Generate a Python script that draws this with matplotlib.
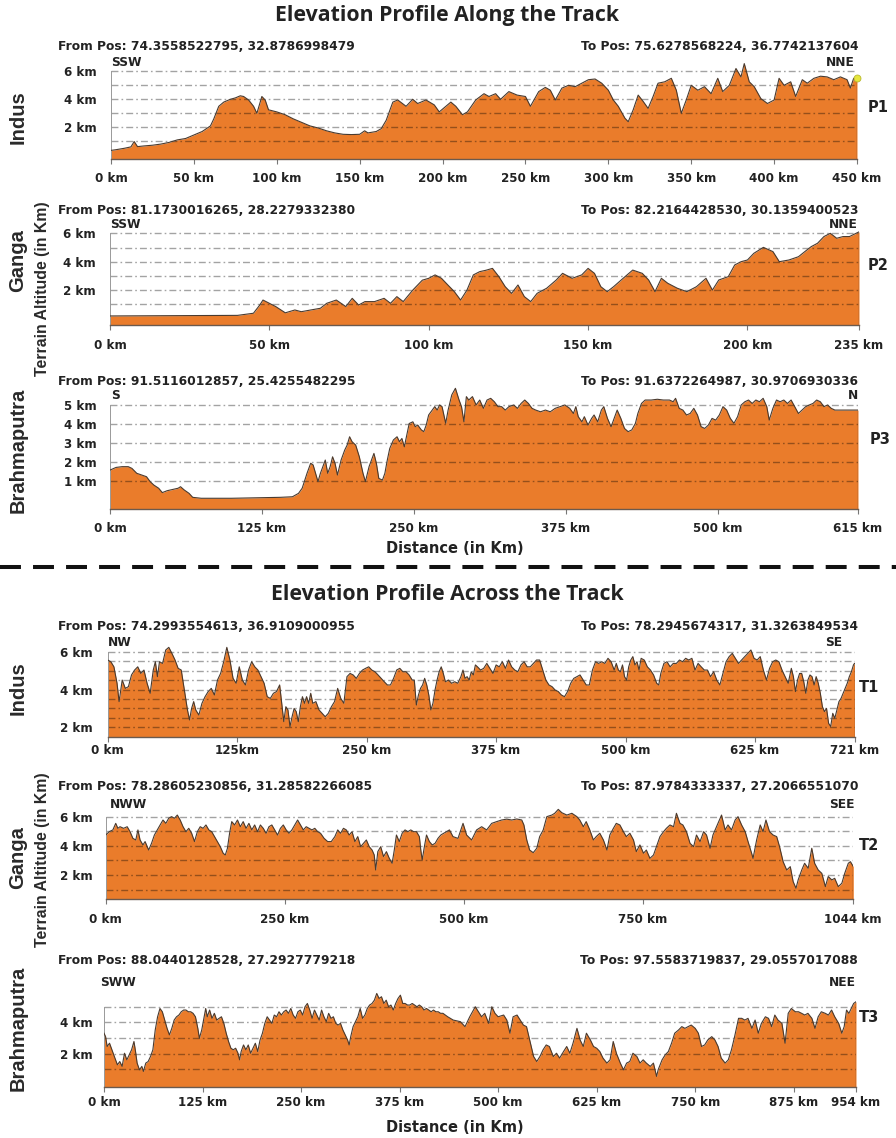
import matplotlib
matplotlib.use("Agg")
import matplotlib.pyplot as plt
from matplotlib.lines import Line2D

plt.rcParams['font.family'] = ['DejaVu Sans']

# ---------------------------------------------------------------- data
# Along-track profiles (distance km, terrain altitude km)
p1_km = [0, 3, 8, 12, 14, 16, 20, 25, 30, 35,
         40, 45, 50, 55, 60, 62, 65, 68, 72, 75,
         78, 80, 83, 86, 88, 91, 93, 95, 100, 105,
         110, 115, 120, 125, 130, 135, 140, 145, 150, 153,
         155, 160, 163, 166, 170, 173, 178, 182, 185, 190,
         195, 198, 200, 205, 208, 212, 215, 220, 225, 228,
         232, 235, 240, 245, 250, 253, 258, 262, 265, 268,
         272, 276, 280, 284, 288, 292, 296, 300, 303, 306,
         310, 312, 315, 318, 321, 324, 327, 330, 334, 338,
         341, 344, 347, 350, 354, 358, 362, 366, 369, 373,
         377, 380, 382, 385, 388, 392, 396, 400, 403, 406,
         410, 413, 417, 420, 424, 428, 432, 436, 440, 444,
         446, 448, 450]
p1_elev = [0.35, 0.40, 0.50, 0.60, 0.98, 0.62, 0.67, 0.72, 0.80, 0.92,
           1.10, 1.20, 1.45, 1.70, 2.10, 2.60, 3.50, 3.80, 4.00, 4.10,
           4.25, 4.20, 3.95, 3.50, 3.00, 4.20, 3.95, 3.25, 3.10, 2.90,
           2.60, 2.35, 2.10, 1.95, 1.75, 1.60, 1.50, 1.48, 1.50, 1.75,
           1.60, 1.70, 1.90, 2.50, 3.80, 3.95, 3.50, 4.00, 3.70, 3.95,
           3.60, 3.10, 3.30, 3.80, 3.50, 2.90, 3.10, 3.95, 4.40, 4.20,
           4.40, 4.00, 4.55, 4.30, 4.20, 3.50, 4.55, 4.85, 4.65, 3.95,
           4.80, 5.00, 4.90, 5.15, 5.40, 5.45, 5.15, 4.65, 3.95, 3.50,
           2.65, 2.40, 3.25, 4.30, 3.85, 3.35, 4.20, 5.15, 5.25, 5.50,
           4.65, 3.00, 3.95, 5.00, 4.65, 4.90, 4.40, 5.50, 4.55, 5.00,
           6.20, 5.60, 6.55, 5.25, 4.90, 4.05, 3.70, 3.95, 5.50, 5.00,
           5.25, 4.20, 5.40, 5.15, 5.50, 5.65, 5.60, 5.40, 5.60, 5.40,
           4.80, 5.50, 5.50]

p2_km = [0, 40, 45, 47, 48, 50, 52, 55, 58, 60,
         63, 66, 68, 71, 74, 76, 78, 80, 83, 86,
         88, 90, 92, 95, 98, 100, 102, 104, 106, 108,
         110, 112, 114, 116, 118, 120, 122, 124, 126, 128,
         130, 132, 134, 137, 140, 142, 145, 148, 150, 152,
         154, 156, 158, 161, 164, 167, 169, 171, 173, 175,
         178, 181, 184, 187, 189, 191, 194, 196, 198, 200,
         202, 205, 208, 210, 213, 216, 218, 220, 222, 224,
         226, 228, 230, 232, 235]
p2_elev = [0.18, 0.22, 0.37, 0.95, 1.30, 1.07, 0.84, 0.40, 0.60, 0.48,
           0.60, 0.72, 1.07, 1.30, 0.84, 1.42, 0.95, 1.19, 1.19, 1.42,
           1.07, 1.54, 1.19, 2.00, 2.70, 2.83, 3.07, 2.83, 2.36, 1.90,
           1.30, 2.00, 3.07, 3.30, 3.40, 3.53, 2.95, 2.24, 1.77, 2.36,
           1.54, 1.19, 1.77, 2.13, 2.71, 3.18, 2.83, 3.07, 3.53, 3.18,
           2.24, 1.89, 2.24, 2.83, 3.41, 3.18, 2.71, 1.89, 2.83, 2.48,
           2.13, 1.89, 2.24, 2.83, 2.00, 2.71, 2.95, 3.77, 4.00, 4.12,
           4.59, 5.01, 4.71, 4.00, 4.12, 4.35, 4.71, 5.06, 5.30, 5.77,
           6.00, 5.65, 5.77, 5.77, 6.10]

p3_km = [0, 5, 10, 15, 18, 22, 26, 30, 33, 36,
         40, 43, 47, 52, 56, 58, 61, 65, 68, 75,
         100, 125, 140, 150, 155, 158, 162, 165, 167, 169,
         171, 173, 175, 177, 179, 181, 183, 185, 187, 190,
         193, 195, 197, 199, 202, 205, 208, 210, 213, 215,
         217, 219, 221, 224, 226, 228, 230, 233, 236, 238,
         240, 242, 244, 246, 249, 251, 253, 256, 258, 260,
         262, 265, 267, 269, 271, 273, 276, 278, 281, 284,
         287, 289, 291, 293, 295, 298, 301, 304, 307, 310,
         313, 316, 319, 322, 325, 328, 332, 335, 338, 341,
         344, 347, 350, 354, 358, 362, 366, 370, 374, 378,
         381, 383, 385, 388, 390, 393, 396, 398, 401, 404,
         406, 409, 412, 415, 417, 420, 423, 426, 429, 432,
         434, 437, 440, 445, 450, 455, 460, 463, 465, 468,
         471, 474, 477, 480, 483, 486, 489, 492, 495, 498,
         501, 504, 507, 510, 513, 516, 519, 522, 525, 528,
         531, 534, 537, 540, 542, 545, 548, 551, 554, 557,
         560, 563, 566, 569, 572, 575, 578, 581, 584, 587,
         590, 593, 596, 600, 615]
p3_elev = [1.56, 1.70, 1.74, 1.74, 1.65, 1.39, 1.30, 1.21, 0.95, 0.77,
           0.60, 0.37, 0.47, 0.54, 0.60, 0.68, 0.51, 0.33, 0.12, 0.07,
           0.07, 0.10, 0.12, 0.15, 0.33, 0.60, 1.39, 1.92, 1.83, 1.39,
           0.95, 1.39, 1.74, 2.09, 1.39, 1.74, 2.26, 1.92, 1.30, 2.09,
           2.62, 2.88, 3.32, 3.06, 2.88, 2.26, 1.39, 0.95, 1.74, 2.09,
           2.44, 1.92, 1.12, 1.03, 1.39, 2.09, 2.70, 3.15, 3.32, 3.06,
           3.23, 2.79, 3.41, 4.02, 4.11, 3.85, 3.94, 3.68, 3.59, 3.94,
           4.47, 4.73, 4.91, 4.73, 5.00, 4.91, 4.03, 4.73, 5.53, 5.88,
           5.26, 4.91, 4.11, 5.44, 5.26, 5.44, 5.00, 5.26, 4.82, 5.26,
           5.35, 5.17, 4.91, 4.91, 4.73, 4.91, 5.00, 4.82, 5.08, 5.26,
           5.08, 4.82, 4.73, 4.64, 4.73, 4.64, 4.82, 4.91, 5.00, 4.82,
           4.55, 4.91, 4.38, 4.11, 4.38, 3.94, 4.29, 4.47, 4.11, 4.73,
           4.91, 4.29, 3.85, 4.38, 4.73, 4.29, 3.76, 3.59, 3.68, 4.03,
           4.55, 5.08, 5.26, 5.26, 5.30, 5.26, 5.26, 5.17, 5.35, 4.82,
           4.73, 4.47, 4.55, 4.82, 4.47, 3.85, 3.76, 3.94, 4.29, 4.20,
           4.47, 4.91, 4.73, 4.29, 4.03, 4.38, 5.00, 5.17, 5.26, 5.08,
           5.26, 5.17, 5.35, 4.91, 4.20, 4.82, 5.26, 5.17, 5.26, 5.08,
           5.26, 4.91, 4.55, 4.73, 4.91, 5.00, 5.08, 5.26, 5.17, 4.91,
           5.00, 4.82, 4.73, 4.73, 4.73]

# Across-track profiles
t1_km = [0, 3, 6, 9, 11, 14, 17, 20, 23, 26,
         29, 32, 35, 38, 41, 44, 46, 48, 50, 53,
         56, 59, 62, 65, 68, 71, 74, 77, 79, 81,
         83, 85, 88, 91, 94, 97, 100, 103, 106, 109,
         112, 115, 118, 121, 124, 127, 130, 133, 136, 139,
         142, 145, 148, 151, 154, 157, 160, 163, 166, 168,
         170, 172, 174, 176, 178, 180, 182, 184, 186, 188,
         190, 192, 194, 196, 198, 201, 204, 207, 210, 213,
         216, 219, 222, 225, 228, 231, 234, 237, 240, 243,
         246, 249, 252, 255, 258, 261, 264, 267, 270, 273,
         276, 279, 282, 285, 288, 291, 294, 296, 298, 300,
         302, 304, 306, 308, 310, 312, 314, 316, 318, 320,
         322, 324, 326, 329, 332, 335, 338, 341, 343, 345,
         347, 349, 351, 353, 355, 357, 360, 363, 366, 369,
         372, 375, 378, 381, 384, 387, 390, 393, 396, 399,
         402, 405, 408, 411, 414, 417, 420, 423, 426, 429,
         432, 435, 438, 441, 444, 447, 450, 453, 456, 459,
         462, 465, 468, 471, 474, 477, 480, 483, 486, 489,
         491, 493, 495, 497, 499, 501, 503, 505, 507, 509,
         511, 513, 515, 518, 521, 524, 527, 530, 532, 534,
         537, 540, 543, 546, 549, 552, 555, 558, 561, 564,
         567, 570, 573, 576, 579, 582, 585, 588, 591, 594,
         597, 600, 603, 606, 609, 612, 615, 618, 621, 624,
         627, 630, 633, 636, 639, 642, 645, 648, 651, 654,
         657, 660, 662, 664, 666, 668, 670, 672, 674, 676,
         678, 680, 682, 684, 686, 688, 690, 692, 694, 696,
         698, 700, 702, 704, 706, 708, 710, 712, 714, 716,
         718, 720, 721]
t1_elev = [5.56, 5.47, 5.20, 4.33, 3.36, 4.50, 4.06, 4.15, 4.77, 5.03,
           5.20, 4.85, 5.03, 4.33, 3.80, 5.03, 5.47, 4.68, 5.47, 5.38,
           6.09, 6.23, 5.91, 5.56, 5.12, 5.03, 3.97, 2.92, 2.39, 3.00,
           3.36, 2.92, 2.65, 3.27, 3.62, 3.89, 4.06, 3.71, 4.50, 4.85,
           5.47, 6.23, 5.56, 4.59, 4.33, 5.20, 4.50, 4.24, 5.03, 5.47,
           5.20, 5.03, 4.68, 4.33, 3.62, 3.53, 3.80, 3.89, 4.24, 3.27,
           2.30, 3.09, 2.92, 2.04, 2.56, 3.00, 2.83, 2.30, 3.09, 3.62,
           3.27, 3.62, 3.27, 3.80, 3.27, 3.36, 2.92, 2.74, 2.56, 2.74,
           3.09, 3.36, 4.06, 3.53, 3.27, 4.68, 4.85, 4.77, 4.59, 4.85,
           5.03, 5.12, 5.20, 5.03, 4.94, 4.77, 4.59, 4.41, 4.24, 4.24,
           4.59, 5.03, 5.12, 4.94, 4.94, 4.77, 4.50, 4.50, 3.18, 3.71,
           4.06, 4.24, 4.59, 4.24, 3.71, 2.92, 3.27, 3.97, 4.50, 4.94,
           5.20, 4.85, 4.41, 4.50, 4.33, 4.41, 4.33, 4.68, 5.03, 4.59,
           4.68, 4.50, 4.94, 4.77, 5.30, 5.20, 5.03, 5.12, 5.38, 5.12,
           4.85, 5.30, 5.20, 5.47, 5.12, 5.56, 5.20, 5.03, 4.94, 5.30,
           5.47, 5.20, 5.20, 5.38, 5.56, 5.56, 5.03, 4.50, 4.24, 4.15,
           3.97, 3.89, 3.71, 3.62, 3.89, 4.33, 4.59, 4.68, 4.77, 4.50,
           4.24, 4.24, 5.03, 5.47, 5.38, 5.47, 5.38, 5.65, 5.47, 5.03,
           5.38, 5.03, 4.94, 5.30, 4.68, 4.50, 5.20, 5.56, 5.74, 5.30,
           5.47, 5.03, 5.65, 5.56, 5.20, 5.03, 4.77, 4.33, 4.24, 4.85,
           5.38, 5.47, 5.20, 5.38, 5.38, 5.56, 5.47, 5.65, 5.56, 5.65,
           5.03, 5.38, 5.20, 5.03, 5.03, 4.68, 4.94, 4.50, 4.24, 4.85,
           5.47, 5.74, 5.91, 5.65, 5.38, 5.56, 5.74, 5.91, 6.09, 5.65,
           5.56, 5.74, 5.03, 4.50, 5.12, 5.47, 5.56, 5.47, 5.03, 4.68,
           4.33, 5.12, 4.68, 3.89, 4.50, 4.85, 4.85, 4.41, 3.80, 4.50,
           4.77, 4.68, 4.24, 4.68, 4.33, 3.80, 3.09, 2.83, 3.00, 2.21,
           2.04, 2.74, 2.48, 2.92, 3.36, 3.53, 3.80, 4.06, 4.33, 4.68,
           4.94, 5.30, 5.38]

t2_km = [0, 5, 10, 14, 17, 20, 25, 30, 34, 38,
         42, 45, 48, 52, 55, 60, 64, 68, 72, 76,
         80, 84, 88, 92, 96, 100, 104, 108, 112, 116,
         120, 124, 128, 132, 136, 140, 144, 148, 152, 156,
         160, 164, 167, 170, 173, 176, 180, 184, 188, 192,
         196, 200, 204, 208, 212, 216, 220, 224, 228, 232,
         236, 240, 244, 248, 252, 256, 260, 264, 268, 272,
         276, 280, 284, 288, 292, 296, 300, 305, 310, 315,
         320, 324, 328, 332, 336, 340, 344, 348, 352, 356,
         360, 364, 368, 372, 375, 377, 380, 384, 388, 392,
         396, 400, 403, 406, 410, 414, 418, 422, 426, 430,
         434, 438, 440, 442, 445, 448, 452, 456, 460, 464,
         468, 472, 476, 480, 485, 492, 499, 504, 511, 518,
         525, 532, 539, 546, 553, 560, 567, 574, 581, 584,
         588, 592, 597, 602, 606, 611, 616, 623, 627, 632,
         637, 644, 651, 658, 662, 667, 671, 676, 681, 685,
         690, 695, 700, 704, 709, 713, 718, 723, 727, 732,
         737, 741, 746, 751, 755, 760, 765, 769, 774, 779,
         783, 788, 793, 797, 802, 806, 811, 816, 821, 825,
         830, 835, 839, 844, 848, 853, 860, 865, 869, 874,
         879, 883, 888, 893, 897, 902, 904, 909, 914, 918,
         922, 927, 932, 937, 941, 946, 951, 956, 960, 964,
         967, 972, 976, 981, 986, 990, 995, 1000, 1005, 1009,
         1014, 1018, 1023, 1028, 1032, 1037, 1040, 1044]
t2_elev = [4.74, 4.97, 5.09, 5.54, 5.20, 5.31, 5.20, 5.31, 4.97, 4.51,
           4.40, 5.09, 4.40, 4.06, 4.29, 3.71, 4.17, 4.74, 5.09, 5.43,
           5.77, 5.54, 5.89, 6.00, 5.89, 6.11, 5.77, 5.31, 4.97, 5.20,
           4.86, 4.29, 4.97, 5.31, 5.20, 5.43, 5.09, 4.97, 4.63, 4.29,
           3.94, 3.49, 3.37, 3.83, 4.86, 5.66, 5.43, 5.77, 5.31, 5.66,
           5.20, 5.54, 5.09, 5.43, 4.97, 5.43, 5.20, 4.86, 5.31, 5.43,
           5.09, 4.74, 5.20, 5.43, 5.09, 4.86, 5.09, 5.43, 5.77, 5.43,
           5.09, 5.31, 5.20, 5.09, 5.20, 4.97, 4.86, 4.51, 4.29, 4.29,
           4.63, 5.09, 4.86, 5.20, 5.09, 4.74, 4.97, 4.29, 4.63, 3.94,
           4.17, 4.40, 3.94, 3.71, 3.37, 2.34, 3.60, 3.94, 3.26, 3.60,
           3.14, 2.80, 3.71, 4.74, 4.29, 4.86, 5.09, 4.97, 5.09, 4.97,
           4.97, 4.63, 3.71, 3.03, 3.94, 4.74, 4.29, 4.06, 4.17, 4.51,
           4.74, 4.86, 4.97, 5.09, 4.63, 4.51, 5.54, 4.74, 4.40, 5.09,
           5.31, 5.09, 5.54, 5.66, 5.77, 5.83, 5.77, 5.84, 5.77, 5.43,
           4.40, 3.71, 3.53, 3.83, 4.63, 5.09, 6.00, 6.11, 6.23, 6.50,
           6.27, 6.11, 6.23, 6.00, 5.77, 5.31, 5.66, 5.09, 4.40, 4.63,
           4.86, 4.40, 3.71, 4.74, 5.20, 5.54, 5.43, 4.97, 4.63, 4.86,
           4.40, 3.60, 4.06, 3.49, 3.71, 3.14, 3.37, 3.94, 4.63, 4.97,
           5.20, 5.43, 5.31, 6.23, 5.54, 5.43, 4.97, 4.17, 3.94, 4.74,
           4.29, 4.97, 4.74, 3.83, 4.74, 5.31, 6.11, 5.09, 5.43, 5.09,
           5.77, 6.00, 5.43, 4.97, 4.29, 3.49, 3.14, 4.40, 5.43, 4.97,
           5.77, 4.97, 4.74, 4.63, 3.94, 2.91, 2.34, 2.57, 1.54, 1.09,
           1.66, 2.34, 2.80, 2.46, 3.83, 2.80, 2.34, 2.11, 1.20, 1.89,
           1.66, 1.77, 1.20, 1.43, 2.11, 2.80, 2.91, 2.57]

t3_km = [0, 2, 4, 7, 10, 13, 17, 20, 23, 26,
         29, 32, 35, 38, 40, 42, 45, 48, 50, 53,
         56, 59, 62, 65, 68, 71, 74, 77, 80, 83,
         86, 89, 92, 95, 98, 101, 104, 107, 110, 113,
         116, 119, 121, 124, 127, 129, 131, 134, 137, 140,
         143, 146, 149, 152, 155, 158, 161, 164, 167, 170,
         172, 174, 177, 180, 183, 186, 189, 192, 195, 198,
         201, 204, 207, 210, 213, 216, 219, 222, 225, 228,
         231, 234, 237, 240, 243, 246, 249, 252, 255, 258,
         261, 264, 267, 270, 273, 276, 279, 282, 285, 288,
         291, 294, 297, 300, 303, 306, 309, 311, 313, 316,
         319, 322, 325, 328, 331, 334, 337, 340, 343, 346,
         349, 352, 355, 358, 361, 364, 367, 370, 373, 376,
         379, 382, 385, 388, 391, 394, 397, 400, 403, 406,
         409, 412, 415, 418, 421, 424, 427, 430, 433, 436,
         443, 452, 458, 464, 471, 475, 479, 483, 488, 492,
         496, 500, 507, 511, 515, 519, 524, 528, 532, 536,
         540, 545, 549, 553, 557, 561, 565, 570, 574, 578,
         583, 587, 591, 595, 600, 604, 608, 612, 617, 621,
         625, 629, 633, 638, 642, 646, 650, 655, 659, 663,
         667, 671, 676, 680, 684, 688, 693, 697, 701, 703,
         708, 712, 716, 720, 724, 729, 733, 737, 741, 745,
         750, 754, 758, 762, 766, 771, 775, 779, 783, 788,
         792, 796, 800, 805, 809, 813, 817, 822, 826, 830,
         834, 839, 843, 847, 851, 855, 860, 864, 868, 872,
         877, 881, 885, 889, 893, 898, 902, 906, 910, 915,
         919, 923, 927, 932, 936, 939, 942, 945, 948, 951,
         954]
t3_elev = [3.31, 3.09, 2.46, 2.67, 2.25, 1.82, 1.29, 1.50, 1.19, 2.03,
           1.61, 1.93, 2.25, 2.78, 2.14, 1.40, 0.97, 1.19, 0.87, 1.40,
           1.50, 1.82, 2.25, 3.52, 4.36, 4.89, 4.68, 4.15, 3.62, 3.20,
           3.62, 4.15, 4.36, 4.47, 4.68, 4.79, 4.79, 4.68, 4.68, 4.58,
           4.36, 3.62, 2.99, 3.52, 4.36, 4.89, 4.36, 4.79, 4.26, 4.58,
           4.15, 4.26, 4.36, 3.94, 3.31, 2.78, 2.35, 2.25, 2.35, 2.03,
           1.61, 2.14, 2.56, 2.25, 2.56, 2.03, 2.35, 2.67, 2.14, 2.88,
           3.31, 3.94, 4.36, 4.15, 3.94, 4.47, 4.36, 4.68, 4.47, 4.68,
           4.79, 4.58, 4.89, 4.47, 4.26, 4.68, 4.79, 4.47, 5.00, 5.21,
           4.79, 4.26, 4.79, 4.47, 4.15, 4.79, 4.36, 4.05, 4.58, 4.26,
           4.36, 3.94, 3.83, 3.94, 3.52, 3.20, 2.88, 2.56, 3.09, 3.73,
           4.05, 4.36, 4.89, 4.26, 4.47, 4.89, 5.11, 5.21, 5.42, 5.85,
           5.53, 5.64, 5.21, 5.42, 5.00, 5.11, 4.79, 5.21, 5.53, 5.74,
           5.21, 5.21, 5.11, 5.11, 5.21, 5.11, 5.00, 5.11, 5.00, 4.79,
           4.89, 4.79, 4.68, 4.79, 4.68, 4.68, 4.58, 4.58, 4.47, 4.36,
           4.15, 4.05, 3.73, 4.36, 5.00, 4.68, 4.36, 4.58, 3.94, 5.00,
           4.58, 4.36, 4.47, 4.15, 3.31, 4.36, 4.47, 4.15, 3.83, 3.73,
           2.88, 1.82, 1.50, 1.82, 2.25, 2.56, 2.46, 1.82, 2.03, 1.72,
           2.14, 2.46, 2.03, 2.67, 3.62, 2.88, 2.46, 3.31, 2.88, 2.46,
           2.35, 2.14, 1.72, 1.40, 1.61, 2.78, 2.03, 1.40, 0.97, 1.40,
           1.50, 2.03, 1.82, 1.40, 1.61, 1.40, 1.19, 1.40, 0.55, 0.97,
           1.61, 1.93, 2.14, 2.67, 3.31, 3.52, 3.73, 3.62, 3.73, 3.83,
           3.62, 3.31, 2.46, 2.56, 2.88, 3.09, 2.88, 2.46, 1.72, 1.40,
           1.61, 2.25, 3.09, 4.26, 4.26, 4.15, 4.26, 3.62, 4.15, 3.31,
           3.94, 4.36, 4.26, 3.73, 4.47, 4.15, 3.94, 2.67, 4.58, 4.89,
           4.68, 4.68, 4.58, 4.47, 4.58, 4.26, 3.62, 4.36, 4.68, 4.58,
           4.47, 4.79, 4.36, 3.94, 3.31, 3.73, 4.79, 4.58, 4.89, 5.21,
           5.32]

# Tick values / labels
p1_xticks = [0, 50, 100, 150, 200, 250, 300, 350, 400, 450]
p2_xticks = [0, 50, 100, 150, 200, 235]
p3_xticks = [0, 125, 250, 375, 500, 615]
t1_xticks = [0, 125, 250, 375, 500, 625, 721]
t1_xlabels = ["0 km", "125km", "250 km", "375 km", "500 km", "625 km", "721 km"]
t2_xticks = [0, 250, 500, 750, 1044]
t3_xticks = [0, 125, 250, 375, 500, 625, 750, 875, 954]

for k, e in [(p1_km, p1_elev), (p2_km, p2_elev), (p3_km, p3_elev),
             (t1_km, t1_elev), (t2_km, t2_elev), (t3_km, t3_elev)]:
    assert len(k) == len(e), (len(k), len(e))

# ---------------------------------------------------------------- style
FILL = '#EA7C2B'
EDGE = '#4A3A2E'
GRID = (0, 0, 0, 0.36)
BOLD = dict(family='DejaVu Sans', weight='bold')

W, H = 896, 1138
fig = plt.figure(figsize=(W / 100, H / 100), dpi=100)
fig.patch.set_facecolor('white')


def km_fmt(vals):
    return [f"{v} km" for v in vals]


def make_panel(x0, x1, zero_row, px_per_km, lo, hi):
    """Axes whose elevation 0 sits at pixel row zero_row."""
    top = zero_row - px_per_km * hi
    bot = zero_row - px_per_km * lo
    ax = fig.add_axes([x0 / W, 1 - bot / H, (x1 - x0) / W, (bot - top) / H])
    ax.set_ylim(lo, hi)
    ax.patch.set_alpha(0)
    return ax


def draw_profile(ax, km, elev, lo, grid_levels, ylabels, xticks, xlabels,
                 ypad, xpad):
    ax.set_xlim(0, km[-1])
    ax.fill_between(km, elev, lo, color=FILL, lw=0, zorder=1)
    ax.plot(km, elev, color=EDGE, lw=0.8, zorder=3)
    ax.plot([km[-1], km[-1]], [lo, elev[-1]], color=EDGE, lw=0.9, zorder=3)
    for g in grid_levels:
        ax.axhline(g, color=GRID, lw=1.0, dashes=(5, 2.2, 1.2, 2.2), zorder=2)
    ax.set_yticks(ylabels)
    ax.set_yticklabels(km_fmt(ylabels), **BOLD, fontsize=8.6, color='#222')
    ax.tick_params(axis='y', length=0, pad=ypad)
    ax.set_xticks(xticks)
    ax.set_xticklabels(xlabels if xlabels else km_fmt(xticks), **BOLD,
                       fontsize=8.6, color='#222')
    ax.tick_params(axis='x', length=3.5, width=0.8, color='#777', pad=xpad)
    for s in ('top', 'right'):
        ax.spines[s].set_visible(False)
    ax.spines['left'].set_color('#999')
    ax.spines['left'].set_linewidth(0.7)
    ax.spines['left'].set_bounds(lo, max(grid_levels))
    ax.spines['bottom'].set_color('#6b5a4e')
    ax.spines['bottom'].set_linewidth(1.0)


def ftext(x, y, s, **kw):
    fig.text(x / W, 1 - y / H, s, **kw)


# ---------------------------------------------------------------- along track
ax1 = make_panel(111, 857, 155.3, 14.0, -0.28, 7.0)
draw_profile(ax1, p1_km, p1_elev, -0.28, [1, 2, 3, 4, 5, 6], [2, 4, 6],
             p1_xticks, None, 10, 5.5)
ax1.plot(p1_km[-1], p1_elev[-1], 'o', ms=5, color='#E6E63C', mec='#B8B830',
         mew=0.6, zorder=4, clip_on=False)

ax2 = make_panel(110, 859, 318.5, 14.2, -0.45, 7.0)
draw_profile(ax2, p2_km, p2_elev, -0.45, [1, 2, 3, 4, 5, 6], [2, 4, 6],
             p2_xticks, None, 10, 6.5)

ax3 = make_panel(110, 858, 499.6, 18.93, -0.5, 6.2)
draw_profile(ax3, p3_km, p3_elev, -0.5, [1, 2, 3, 4, 5], [1, 2, 3, 4, 5],
             p3_xticks, None, 9.5, 5.5)

# ---------------------------------------------------------------- across track
ax4 = make_panel(107.7, 854.5, 765.1, 18.9, 1.5, 6.6)
draw_profile(ax4, t1_km, t1_elev, 1.5,
             [2, 2.5, 3, 3.5, 4, 4.5, 5, 5.5, 6], [2, 4, 6],
             t1_xticks, t1_xlabels, 10.5, 2.0)

ax5 = make_panel(105.7, 853.3, 904.1, 14.575, 0.33, 6.8)
draw_profile(ax5, t2_km, t2_elev, 0.33, [1, 2, 3, 4, 5, 6], [2, 4, 6],
             t2_xticks, None, 9, 6.5)

ax6 = make_panel(104, 856, 1085.0, 15.65, -0.1, 6.0)
draw_profile(ax6, t3_km, t3_elev, -0.1, [1, 2, 3, 4, 5], [2, 4],
             t3_xticks, None, 8, 3.5)

# ---------------------------------------------------------------- texts
small = dict(**BOLD, fontsize=8.8, color='#222', va='center')
for y_pos, y_dir, frm, to, d0, d1, x_d0, x_d1, tag, y_tag, x_tag in [
    (46, 62, "From Pos: 74.3558522795, 32.8786998479",
     "To Pos: 75.6278568224, 36.7742137604", "SSW", "NNE", 111, 855, "P1", 108, 868),
    (211, 224, "From Pos: 81.1730016265, 28.2279332380",
     "To Pos: 82.2164428530, 30.1359400523", "SSW", "NNE", 110, 858, "P2", 265, 868),
    (381, 396, "From Pos: 91.5116012857, 25.4255482295",
     "To Pos: 91.6372264987, 30.9706930336", "S", "N", 111, 858, "P3", 439, 870),
    (627, 643, "From Pos: 74.2993554613, 36.9109000955",
     "To Pos: 78.2945674317, 31.3263849534", "NW", "SE", 108, 842, "T1", 687, 859),
    (787, 804, "From Pos: 78.28605230856, 31.28582266085",
     "To Pos: 87.9784333337, 27.2066551070", "NWW", "SEE", 110, 855, "T2", 846, 859),
    (960, 982, "From Pos: 88.0440128528, 27.2927779218",
     "To Pos: 97.5583719837, 29.0557017088", "SWW", "NEE", 100, 856, "T3", 1018, 859),
]:
    ftext(58, y_pos, frm, ha='left', **small)
    ftext(858, y_pos, to, ha='right', **small)
    ftext(x_d0, y_dir, d0, ha='left', **small)
    ftext(x_d1, y_dir, d1, ha='right', **small)
    ftext(x_tag, y_tag, tag, ha='left', **BOLD, fontsize=10.5, color='#222',
          va='center')

title_kw = dict(family='Open Sans', weight='bold', fontsize=15.3, color='#222',
                ha='center', va='center')
ftext(447, 16, "Elevation Profile Along the Track", **title_kw)
ftext(447, 595, "Elevation Profile Across the Track", **title_kw)

axis_kw = dict(**BOLD, fontsize=10.5, color='#222', ha='center', va='center')
ftext(455, 548, "Distance (in Km)", **axis_kw)
ftext(455, 1127, "Distance (in Km)", **axis_kw)

side_kw = dict(family='Liberation Sans', weight='bold', fontsize=14.5,
               color='#2a2a2a', rotation=90, ha='center', va='center')
ftext(18, 117, "Indus", **side_kw)
ftext(18, 261, "Ganga", **side_kw)
ftext(18, 450, "Brahmaputra", **side_kw)
ftext(18, 688, "Indus", **side_kw)
ftext(18, 858, "Ganga", **side_kw)
ftext(18, 1028, "Brahmaputra", **side_kw)
ylab_kw = dict(family='Liberation Sans', weight='bold', fontsize=11.4,
               color='#2a2a2a', rotation=90, ha='center', va='center')
ftext(42, 289, "Terrain Altitude (in Km)", **ylab_kw)
ftext(42, 860, "Terrain Altitude (in Km)", **ylab_kw)

# dashed separator between the two sections
fig.add_artist(Line2D([0, 1], [1 - 567 / H, 1 - 567 / H], transform=fig.transFigure,
                      color='#111', lw=2.9, dashes=(5.2, 3.0)))

fig.savefig("out.png", dpi=100, facecolor='white')
